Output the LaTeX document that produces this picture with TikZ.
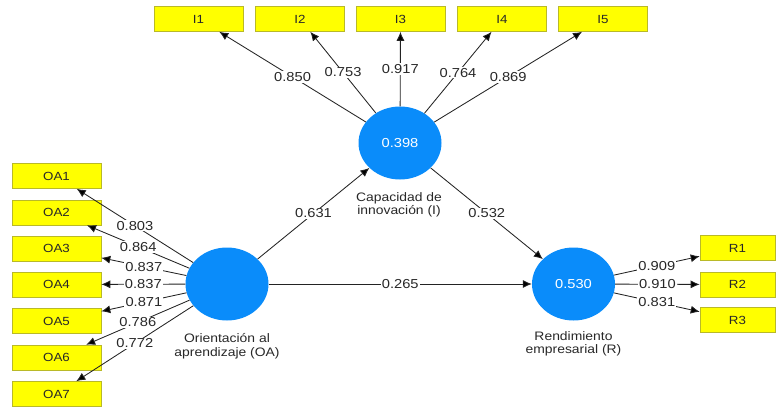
\documentclass[tikz,border=0pt]{standalone}
\usepackage{fontspec}
\setmainfont{Liberation Sans}[FakeStretch=1.13]
\usetikzlibrary{shapes.geometric,arrows.meta}
\definecolor{lvblue}{RGB}{10,140,250}
\definecolor{boxyel}{RGB}{255,255,0}
\definecolor{boxbrd}{RGB}{185,185,40}
\definecolor{txtgray}{RGB}{40,40,40}
\definecolor{lngray}{RGB}{35,35,35}
\tikzset{
  indbox/.style={draw=boxbrd, line width=0.6pt, fill=boxyel, minimum width=89pt, minimum height=25pt, inner sep=0pt, text=txtgray, font=\fontsize{11.8}{13}\selectfont},
  rbox/.style={indbox, minimum width=75pt},
  latent/.style={ellipse, fill=lvblue, draw=none, minimum width=83pt, minimum height=73pt, inner sep=0pt, text=white, font=\fontsize{13}{15}\selectfont},
  lvlabel/.style={align=center, text=txtgray, font=\fontsize{12.3}{13.5}\selectfont},
  conn/.style={draw=lngray, line width=0.85pt, -{Latex[length=9pt,width=8pt,fill=black]}},
  coef/.style={fill=white, inner sep=1.2pt, text=txtgray, font=\fontsize{13}{15}\selectfont, pos=0.5}
}
\begin{document}
\begin{tikzpicture}[x=1pt,y=-1pt]
\useasboundingbox (0,0) rectangle (776,407);
% latent variables
\node[latent] (OA) at (227,284) {};
\node[latent] (I) at (400,143) {0.398};
\node[latent] (R) at (573.5,284) {0.530};
\node[lvlabel] (OAl) at (227,346) {Orientación al\\aprendizaje (OA)};
\node[lvlabel] (Il) at (399,205) {Capacidad de\\innovación (I)};
\node[lvlabel] (Rl) at (573.5,344) {Rendimiento\\empresarial (R)};
% indicator boxes of I
\node[indbox] (I1) at (198.5,19) {I1};
\node[indbox] (I2) at (300,19) {I2};
\node[indbox] (I3) at (400.5,19) {I3};
\node[indbox] (I4) at (502,19) {I4};
\node[indbox] (I5) at (603,19) {I5};
% indicator boxes of OA
\node[indbox] (OA1) at (56.5,176) {OA1};
\node[indbox] (OA2) at (56.5,212.5) {OA2};
\node[indbox] (OA3) at (56.5,248.5) {OA3};
\node[indbox] (OA4) at (56.5,284.5) {OA4};
\node[indbox] (OA5) at (56.5,321) {OA5};
\node[indbox] (OA6) at (56.5,357.5) {OA6};
\node[indbox] (OA7) at (56.5,394) {OA7};
% indicator boxes of R
\node[rbox] (R1) at (737.5,248) {R1};
\node[rbox] (R2) at (737.5,284.5) {R2};
\node[rbox] (R3) at (737.5,320) {R3};
% outer loadings I
\draw[conn] (I) -- node[coef]{0.850} (I1);
\draw[conn] (I) -- node[coef]{0.753} (I2);
\draw[conn] (I) -- node[coef]{0.917} (I3);
\draw[conn] (I) -- node[coef]{0.764} (I4);
\draw[conn] (I) -- node[coef]{0.869} (I5);
% outer loadings OA
\draw[conn] (OA) -- node[coef]{0.803} (OA1);
\draw[conn] (OA) -- node[coef]{0.864} (OA2);
\draw[conn] (OA) -- node[coef]{0.837} (OA3);
\draw[conn] (OA) -- node[coef]{0.837} (OA4);
\draw[conn] (OA) -- node[coef]{0.871} (OA5);
\draw[conn] (OA) -- node[coef]{0.786} (OA6);
\draw[conn] (OA) -- node[coef]{0.772} (OA7);
% outer loadings R
\draw[conn] (R) -- node[coef]{0.909} (R1);
\draw[conn] (R) -- node[coef]{0.910} (R2);
\draw[conn] (R) -- node[coef]{0.831} (R3);
% structural paths
\draw[conn] (OA) -- node[coef]{0.631} (I);
\draw[conn] (I) -- node[coef]{0.532} (R);
\draw[conn] (OA) -- node[coef]{0.265} (R);
\end{tikzpicture}
\end{document}
